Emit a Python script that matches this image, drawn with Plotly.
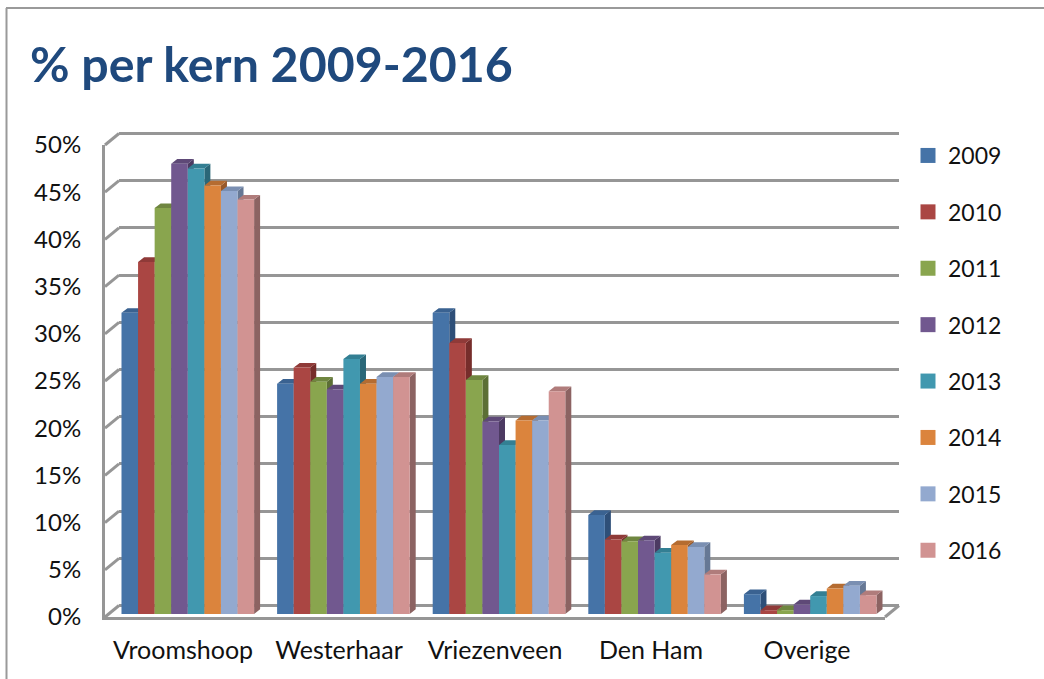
import plotly.graph_objects as go

W, H = 1044, 679
categories = ["Vroomshoop", "Westerhaar", "Vriezenveen", "Den Ham", "Overige"]
years = ["2009", "2010", "2011", "2012", "2013", "2014", "2015", "2016"]
v2009 = [31.9, 24.4, 31.9, 10.5, 2.1]
v2010 = [37.3, 26.1, 28.7, 7.9, 0.4]
v2011 = [43.0, 24.6, 24.8, 7.7, 0.4]
v2012 = [47.7, 23.8, 20.4, 7.8, 1.0]
v2013 = [47.2, 27.0, 17.9, 6.5, 1.9]
v2014 = [45.4, 24.4, 20.5, 7.3, 2.7]
v2015 = [44.8, 25.1, 20.5, 7.1, 3.0]
v2016 = [43.9, 25.1, 23.6, 4.2, 2.0]
series = [v2009, v2010, v2011, v2012, v2013, v2014, v2015, v2016]
front = ["#4573A7", "#AA4643", "#89A54E", "#71588F", "#4198AF", "#DB843D", "#93A9CF", "#D19392"]
top = ["#3A6291", "#8F3A38", "#6F8640", "#5E4977", "#337F93", "#B56C31", "#7A8FB2", "#B07C7B"]
side = ["#2E4F78", "#762D2B", "#5C6F35", "#4C3A62", "#2A6778", "#98592A", "#667895", "#8C6362"]
ticks = [0, 5, 10, 15, 20, 25, 30, 35, 40, 45, 50]

GRID = "#969696"
FONT = "Lato, Carlito, Calibri, sans-serif"

def px(a, b):
    return [a / W, b / W]

def py(bottom, topv):
    return [1 - bottom / H, 1 - topv / H]

# Axis frames (pixels of the picture)
F_X, F_Y = px(105, 885), py(617, 145)     # front frame carrying the labels
B_X, B_Y = px(119, 899), py(610.2, 128.8) # back wall carrying the grid (range runs 0.5 past each end)
P_X, P_Y = px(110, 888), py(614, 142)     # plane of the bar fronts

unit_x = (888 - 110) / 5          # pixels per category
unit_y = (614 - 142) / 50         # pixels per percent
depth_x = 6 / unit_x
depth_y = 4.7 / unit_y
group = 132.6 / unit_x
bw = group / len(series)

fig = go.Figure()

# carriers so that the front frame and the wall grid are drawn
fig.add_trace(go.Scatter(x=[None], y=[None], xaxis="x", yaxis="y", showlegend=False, hoverinfo="skip"))
fig.add_trace(go.Scatter(x=[None], y=[None], xaxis="x2", yaxis="y2", showlegend=False, hoverinfo="skip"))

# depth faces, left to right so that later bars hide earlier ones
for s, vals in enumerate(series):
    sx, sy, tx, ty = [], [], [], []
    for c, v in enumerate(vals):
        x0 = c - group / 2 + s * bw
        x1 = x0 + bw
        sx += [x1, x1, x1 + depth_x, x1 + depth_x, x1, None]
        sy += [0, v, v + depth_y, depth_y, 0, None]
        tx += [x0, x1, x1 + depth_x, x0 + depth_x, x0, None]
        ty += [v, v, v + depth_y, v + depth_y, v, None]
    fig.add_trace(go.Scatter(x=sx, y=sy, xaxis="x3", yaxis="y3", mode="lines", fill="toself",
                             fillcolor=side[s], line=dict(width=0), hoverinfo="skip", showlegend=False))
    fig.add_trace(go.Scatter(x=tx, y=ty, xaxis="x3", yaxis="y3", mode="lines", fill="toself",
                             fillcolor=top[s], line=dict(width=0), hoverinfo="skip", showlegend=False))

# front faces
for s, vals in enumerate(series):
    fig.add_trace(go.Bar(x=list(range(len(categories))), y=vals, name=years[s], xaxis="x4", yaxis="y4",
                         marker=dict(color=front[s], line=dict(width=0)), legendgroup=years[s],
                         showlegend=False))
    fig.add_trace(go.Scatter(x=[None], y=[None], name=years[s], xaxis="x4", yaxis="y4", mode="markers",
                             marker=dict(symbol="square", size=15, color=front[s]), legendgroup=years[s]))

# wall connectors
shapes = [
    dict(type="line", xref="paper", yref="paper", x0=6.5 / W, x1=6.5 / W, y0=0, y1=1 - 8 / H,
         line=dict(color="#9A9A9A", width=2)),
    dict(type="line", xref="paper", yref="paper", x0=6 / W, x1=1, y0=1 - 8 / H, y1=1 - 8 / H,
         line=dict(color="#9A9A9A", width=2)),
    dict(type="line", xref="paper", yref="paper", x0=885 / W, x1=899 / W, y0=1 - 617 / H, y1=1 - 605.5 / H,
         line=dict(color=GRID, width=3), layer="below"),
]
for t in ticks:
    yf = 617 - t * (617 - 145) / 50
    yb = 605.5 - t * (605.5 - 133.5) / 50
    shapes.append(dict(type="line", xref="paper", yref="paper", x0=105 / W, x1=119 / W,
                       y0=1 - yf / H, y1=1 - yb / H, line=dict(color=GRID, width=3), layer="below"))

hidden = dict(showgrid=False, zeroline=False, showline=False, showticklabels=False, ticks="")
XR = [-0.5, 4.5]
YR = [0, 50]
fig.update_layout(
    width=W, height=H, margin=dict(l=0, r=0, t=0, b=0), autosize=False,
    paper_bgcolor="white", plot_bgcolor="rgba(0,0,0,0)",
    barmode="group", bargap=1 - group, bargroupgap=0,
    showlegend=True,
    font=dict(family=FONT, color="#111111", size=24),
    title=dict(text="<b>% per kern 2009-2016</b>", x=30 / W, xanchor="left", xref="paper",
               y=1 - 65 / H, yanchor="middle", yref="paper",
               font=dict(family=FONT, size=48.3, color="#1F497D")),
    legend=dict(x=908 / W, xanchor="left", y=1 - 134 / H, yanchor="top", tracegroupgap=23.5,
                font=dict(size=23), bgcolor="rgba(0,0,0,0)", itemwidth=30, itemclick=False, itemdoubleclick=False),
    xaxis=dict(domain=F_X, range=XR, tickmode="array", tickvals=list(range(5)), ticktext=categories,
               tickfont=dict(size=25), showgrid=False, zeroline=False, showline=True, linecolor=GRID,
               linewidth=3, ticks="", anchor="y", ticklabelstandoff=9, automargin=False),
    yaxis=dict(domain=F_Y, range=YR, tickmode="array", tickvals=ticks, ticktext=[f"{t}%" for t in ticks],
               showgrid=False, zeroline=False, showline=True, linecolor=GRID, linewidth=3, ticks="",
               anchor="x", ticklabelstandoff=16, automargin=False),
    xaxis2=dict(domain=B_X, range=XR, anchor="y2", **hidden),
    yaxis2=dict(domain=B_Y, range=[-0.5, 50.5], anchor="x2", tickmode="array", tickvals=ticks,
                showgrid=True, gridcolor=GRID, gridwidth=3, zeroline=False, showline=False,
                showticklabels=False, ticks=""),
    xaxis3=dict(domain=P_X, range=XR, anchor="y3", **hidden),
    yaxis3=dict(domain=P_Y, range=YR, anchor="x3", **hidden),
    xaxis4=dict(domain=P_X, range=XR, anchor="y4", **hidden),
    yaxis4=dict(domain=P_Y, range=YR, anchor="x4", **hidden),
    shapes=shapes,
)

fig.write_html("out.html", config={"displayModeBar": False},
               post_script="document.body.style.margin='0';document.documentElement.style.overflow='hidden';")
